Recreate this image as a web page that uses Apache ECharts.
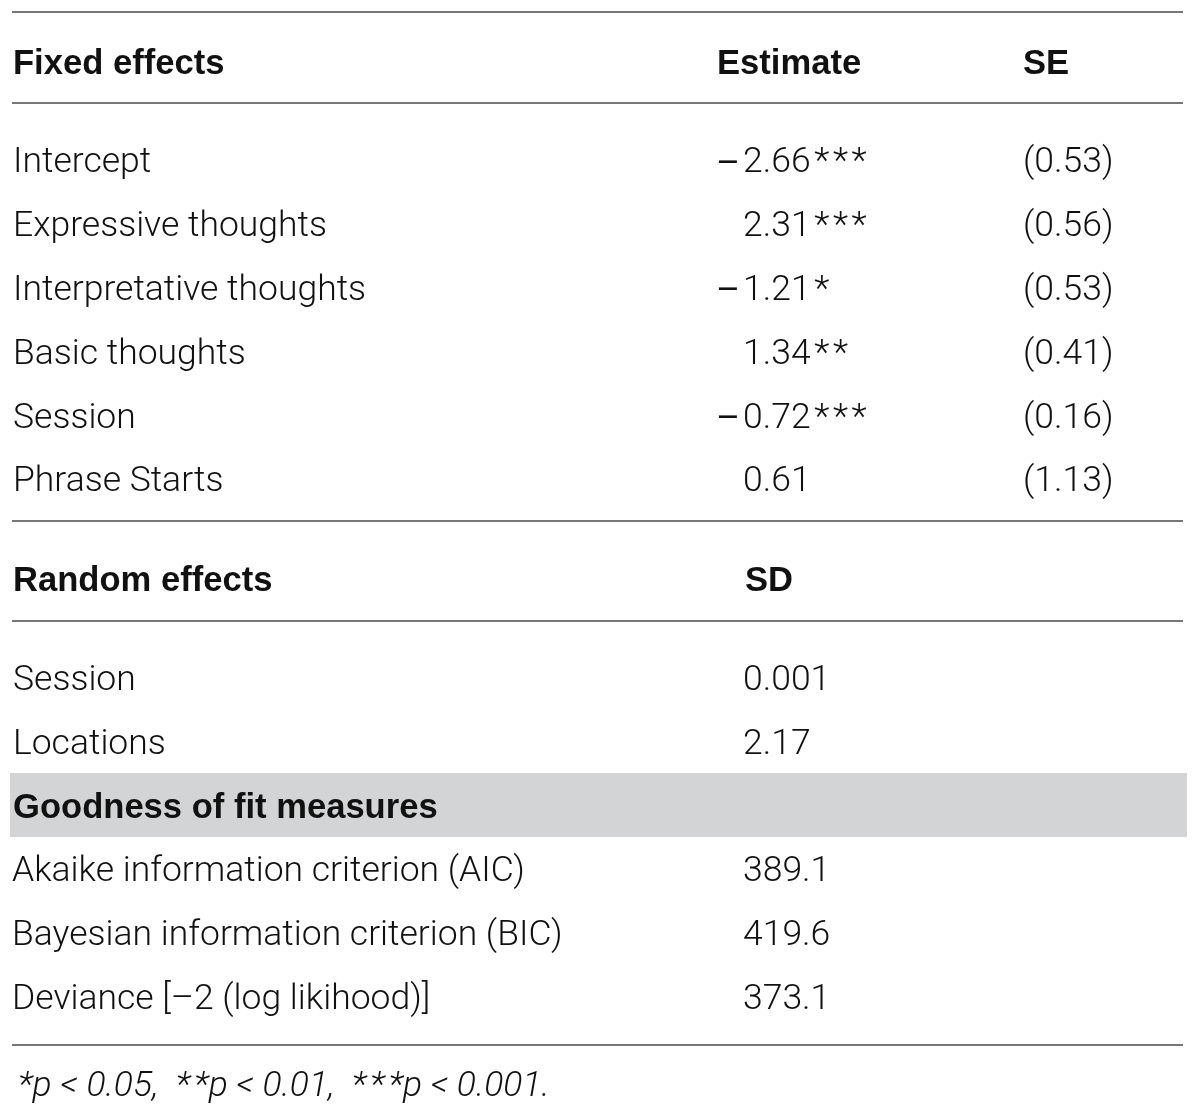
<!DOCTYPE html>
<html>
<head>
<meta charset="utf-8">
<title>Fixed and random effects</title>
<script src="https://cdn.jsdelivr.net/npm/echarts@6/dist/echarts.min.js"></script>
<style>
  html, body { margin: 0; padding: 0; background: #fff; }
  #chart { width: 1200px; height: 1117px; }
</style>
</head>
<body>
<div id="chart"></div>
<script>
// ── table content ──────────────────────────────
var fixedHeader = ["Fixed effects", "Estimate", "SE"];
var fixedTerms = ["Intercept", "Expressive thoughts", "Interpretative thoughts", "Basic thoughts", "Session", "Phrase Starts"];
var fixedEstimate = [-2.66, 2.31, -1.21, 1.34, -0.72, 0.61];
var fixedStars = ["***", "***", "*", "**", "***", ""];
var fixedSE = [0.53, 0.56, 0.53, 0.41, 0.16, 1.13];

var randomHeader = ["Random effects", "SD"];
var randomTerms = ["Session", "Locations"];
var randomSD = [0.001, 2.17];

var fitHeader = "Goodness of fit measures";
var fitTerms = ["Akaike information criterion (AIC)", "Bayesian information criterion (BIC)", "Deviance [\u20132 (log likihood)]"];
var fitValues = [389.1, 419.6, 373.1];

var footnote = [["*", "p < 0.05,"], ["**", "p < 0.01,"], ["***", "p < 0.001."]];

(function () {
  "use strict";

  var LIGHT = "Roboto", BOLD = "'Liberation Sans', Arial, sans-serif";
  var INK = "#111", RULE = "#4a4a4a", BAND = "#d3d4d6";
  var FS = 35.5, FS_BOLD = 34.6, ROW = 63.8, DY = 2.5;
  // column anchors
  var X = { label: 13, minus: 717, num: 743, se: 1023, left: 12, right: 1183 };

  function stars(s) { return s.split("").join("\u200a"); }

  // ── build rows ──────────────────────────────
  var items = [];
  function rule(y) { items.push({ type: "rule", y: y }); }
  function row(y, cells) { items.push({ type: "row", y: y + DY, cells: cells }); }
  function cell(x, text, kind) { return { x: x, text: text, kind: kind || "light" }; }

  rule(12);
  row(62, [cell(X.label, fixedHeader[0], "bold"), cell(X.minus, fixedHeader[1], "bold"), cell(X.se, fixedHeader[2], "bold")]);
  rule(103);
  fixedTerms.forEach(function (t, i) {
    var v = fixedEstimate[i];
    var cells = [cell(X.label, t), cell(X.num, Math.abs(v).toFixed(2) + (fixedStars[i] ? "\u200a" + stars(fixedStars[i]) : "")),
                 cell(X.se, "(" + fixedSE[i].toFixed(2) + ")")];
    if (v < 0) cells.push(cell(X.minus, "\u2212", "minus"));
    row(161 + i * ROW, cells);
  });
  rule(521);
  row(579, [cell(X.label, randomHeader[0], "bold"), cell(X.num + 2, randomHeader[1], "bold")]);
  rule(621);
  randomTerms.forEach(function (t, i) {
    row(679 + i * ROW, [cell(X.label, t), cell(X.num, String(randomSD[i]))]);
  });
  items.push({ type: "band", y0: 773, y1: 837 });
  row(806, [cell(X.label, fitHeader, "bold")]);
  fitTerms.forEach(function (t, i) {
    row(870 + i * ROW, [cell(X.label - 1, t), cell(X.num, String(fitValues[i]))]);
  });
  rule(1045);
  row(1085, [cell(18, footnote.map(function (f) { return stars(f[0]) + f[1]; }).join("  "), "italic")]);

  // ── render ──────────────────────────────
  var FONTS = {
    light:  { fontFamily: LIGHT, fontWeight: 300, fontStyle: "normal", fontSize: FS },
    italic: { fontFamily: LIGHT, fontWeight: 300, fontStyle: "italic", fontSize: FS },
    bold:   { fontFamily: BOLD, fontWeight: "bold", fontStyle: "normal", fontSize: FS_BOLD },
    minus:  { fontFamily: BOLD, fontWeight: "normal", fontStyle: "normal", fontSize: 37 }
  };

  function renderItem(params, api) {
    var d = items[api.value(0)];
    if (d.type === "rule") {
      return { type: "line", shape: { x1: X.left, y1: d.y, x2: X.right, y2: d.y }, style: { stroke: RULE, lineWidth: 1.6 } };
    }
    if (d.type === "band") {
      return { type: "rect", shape: { x: 10, y: d.y0, width: 1177, height: d.y1 - d.y0 }, style: { fill: BAND } };
    }
    return {
      type: "group",
      children: d.cells.map(function (c) {
        return {
          type: "text",
          style: Object.assign({ x: c.x, y: d.y, text: c.text, fill: INK, align: "left", verticalAlign: "middle" }, FONTS[c.kind])
        };
      })
    };
  }

  var chart = echarts.init(document.getElementById("chart"), null, { renderer: "canvas" });
  chart.setOption({
    animation: false,
    series: [{
      type: "custom", coordinateSystem: "none", silent: true,
      data: items.map(function (d, i) { return [i]; }),
      renderItem: renderItem
    }]
  });
})();
</script>
</body>
</html>
